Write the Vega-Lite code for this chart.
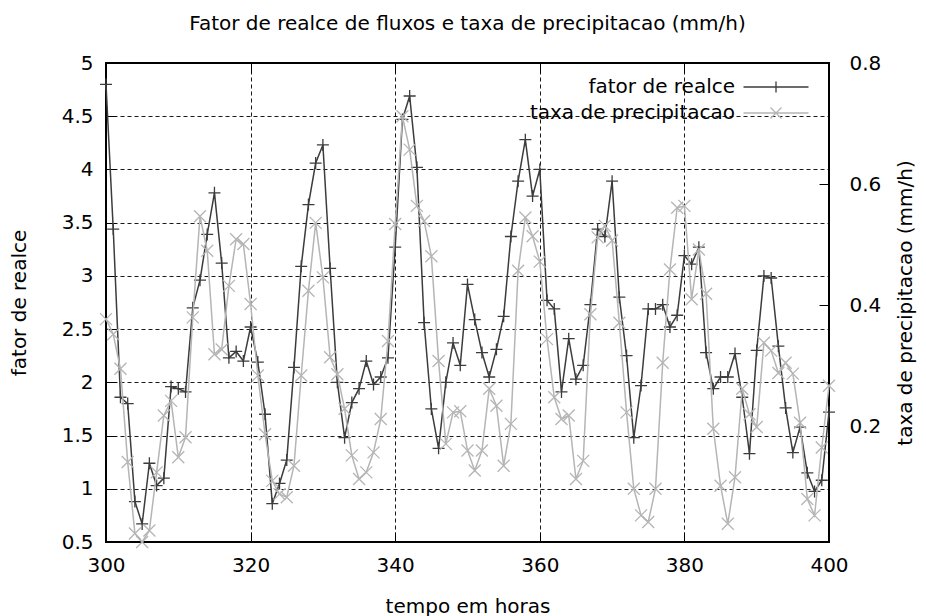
{
  "$schema": "https://vega.github.io/schema/vega-lite/v6.json",
  "autosize": "none",
  "padding": {"left": 106, "top": 63, "right": 97, "bottom": 74},
  "width": 723,
  "height": 479,
  "background": "white",
  "config": {
    "font": "DejaVu Sans",
    "view": {"stroke": "black", "strokeWidth": 2},
    "axis": {
      "labelFont": "DejaVu Sans", "titleFont": "DejaVu Sans",
      "labelFontSize": 20, "titleFontSize": 20, "titleFontWeight": "normal",
      "labelColor": "black", "titleColor": "black",
      "domain": false, "tickColor": "black", "tickSize": -10, "tickWidth": 1,
      "gridColor": "black", "gridDash": [4, 3], "gridWidth": 1, "gridOpacity": 0.9,
      "labelFlush": false, "labelOverlap": false
    }
  },
  "title": {
    "text": "Fator de realce de fluxos e taxa de precipitacao (mm/h)",
    "fontSize": 20, "fontWeight": "normal", "font": "DejaVu Sans", "color": "black", "offset": 19
  },
  "data": {"values": [
    {"hora":300,"fator de realce":4.80,"taxa de precipitacao":0.377},
    {"hora":301,"fator de realce":3.44,"taxa de precipitacao":0.352},
    {"hora":302,"fator de realce":1.86,"taxa de precipitacao":0.295},
    {"hora":303,"fator de realce":1.80,"taxa de precipitacao":0.141},
    {"hora":304,"fator de realce":0.88,"taxa de precipitacao":0.023},
    {"hora":305,"fator de realce":0.67,"taxa de precipitacao":0.009},
    {"hora":306,"fator de realce":1.24,"taxa de precipitacao":0.028},
    {"hora":307,"fator de realce":1.03,"taxa de precipitacao":0.124},
    {"hora":308,"fator de realce":1.10,"taxa de precipitacao":0.218},
    {"hora":309,"fator de realce":1.96,"taxa de precipitacao":0.242},
    {"hora":310,"fator de realce":1.94,"taxa de precipitacao":0.149},
    {"hora":311,"fator de realce":1.91,"taxa de precipitacao":0.182},
    {"hora":312,"fator de realce":2.70,"taxa de precipitacao":0.380},
    {"hora":313,"fator de realce":2.96,"taxa de precipitacao":0.547},
    {"hora":314,"fator de realce":3.39,"taxa de precipitacao":0.490},
    {"hora":315,"fator de realce":3.78,"taxa de precipitacao":0.319},
    {"hora":316,"fator de realce":3.12,"taxa de precipitacao":0.327},
    {"hora":317,"fator de realce":2.23,"taxa de precipitacao":0.432},
    {"hora":318,"fator de realce":2.29,"taxa de precipitacao":0.509},
    {"hora":319,"fator de realce":2.20,"taxa de precipitacao":0.501},
    {"hora":320,"fator de realce":2.52,"taxa de precipitacao":0.402},
    {"hora":321,"fator de realce":2.19,"taxa de precipitacao":0.284},
    {"hora":322,"fator de realce":1.70,"taxa de precipitacao":0.187},
    {"hora":323,"fator de realce":0.86,"taxa de precipitacao":0.110},
    {"hora":324,"fator de realce":1.05,"taxa de precipitacao":0.088},
    {"hora":325,"fator de realce":1.27,"taxa de precipitacao":0.083},
    {"hora":326,"fator de realce":2.14,"taxa de precipitacao":0.135},
    {"hora":327,"fator de realce":3.09,"taxa de precipitacao":0.284},
    {"hora":328,"fator de realce":3.67,"taxa de precipitacao":0.424},
    {"hora":329,"fator de realce":4.06,"taxa de precipitacao":0.536},
    {"hora":330,"fator de realce":4.23,"taxa de precipitacao":0.446},
    {"hora":331,"fator de realce":3.07,"taxa de precipitacao":0.314},
    {"hora":332,"fator de realce":2.00,"taxa de precipitacao":0.286},
    {"hora":333,"fator de realce":1.48,"taxa de precipitacao":0.229},
    {"hora":334,"fator de realce":1.81,"taxa de precipitacao":0.152},
    {"hora":335,"fator de realce":1.94,"taxa de precipitacao":0.113},
    {"hora":336,"fator de realce":2.20,"taxa de precipitacao":0.124},
    {"hora":337,"fator de realce":1.98,"taxa de precipitacao":0.157},
    {"hora":338,"fator de realce":2.05,"taxa de precipitacao":0.212},
    {"hora":339,"fator de realce":2.23,"taxa de precipitacao":0.341},
    {"hora":340,"fator de realce":3.27,"taxa de precipitacao":0.534},
    {"hora":341,"fator de realce":4.47,"taxa de precipitacao":0.712},
    {"hora":342,"fator de realce":4.69,"taxa de precipitacao":0.657},
    {"hora":343,"fator de realce":4.02,"taxa de precipitacao":0.564},
    {"hora":344,"fator de realce":2.56,"taxa de precipitacao":0.539},
    {"hora":345,"fator de realce":1.75,"taxa de precipitacao":0.481},
    {"hora":346,"fator de realce":1.38,"taxa de precipitacao":0.308},
    {"hora":347,"fator de realce":2.00,"taxa de precipitacao":0.171},
    {"hora":348,"fator de realce":2.37,"taxa de precipitacao":0.223},
    {"hora":349,"fator de realce":2.16,"taxa de precipitacao":0.225},
    {"hora":350,"fator de realce":2.92,"taxa de precipitacao":0.160},
    {"hora":351,"fator de realce":2.59,"taxa de precipitacao":0.127},
    {"hora":352,"fator de realce":2.28,"taxa de precipitacao":0.160},
    {"hora":353,"fator de realce":2.05,"taxa de precipitacao":0.262},
    {"hora":354,"fator de realce":2.31,"taxa de precipitacao":0.234},
    {"hora":355,"fator de realce":2.62,"taxa de precipitacao":0.135},
    {"hora":356,"fator de realce":3.37,"taxa de precipitacao":0.204},
    {"hora":357,"fator de realce":3.89,"taxa de precipitacao":0.457},
    {"hora":358,"fator de realce":4.28,"taxa de precipitacao":0.545},
    {"hora":359,"fator de realce":3.75,"taxa de precipitacao":0.514},
    {"hora":360,"fator de realce":4.00,"taxa de precipitacao":0.472},
    {"hora":361,"fator de realce":2.77,"taxa de precipitacao":0.344},
    {"hora":362,"fator de realce":2.69,"taxa de precipitacao":0.248},
    {"hora":363,"fator de realce":1.91,"taxa de precipitacao":0.212},
    {"hora":364,"fator de realce":2.41,"taxa de precipitacao":0.218},
    {"hora":365,"fator de realce":2.03,"taxa de precipitacao":0.113},
    {"hora":366,"fator de realce":2.16,"taxa de precipitacao":0.143},
    {"hora":367,"fator de realce":2.73,"taxa de precipitacao":0.385},
    {"hora":368,"fator de realce":3.44,"taxa de precipitacao":0.512},
    {"hora":369,"fator de realce":3.37,"taxa de precipitacao":0.531},
    {"hora":370,"fator de realce":3.89,"taxa de precipitacao":0.507},
    {"hora":371,"fator de realce":2.80,"taxa de precipitacao":0.371},
    {"hora":372,"fator de realce":2.25,"taxa de precipitacao":0.223},
    {"hora":373,"fator de realce":1.48,"taxa de precipitacao":0.097},
    {"hora":374,"fator de realce":1.97,"taxa de precipitacao":0.053},
    {"hora":375,"fator de realce":2.69,"taxa de precipitacao":0.042},
    {"hora":376,"fator de realce":2.69,"taxa de precipitacao":0.097},
    {"hora":377,"fator de realce":2.73,"taxa de precipitacao":0.305},
    {"hora":378,"fator de realce":2.52,"taxa de precipitacao":0.459},
    {"hora":379,"fator de realce":2.63,"taxa de precipitacao":0.561},
    {"hora":380,"fator de realce":3.19,"taxa de precipitacao":0.564},
    {"hora":381,"fator de realce":3.11,"taxa de precipitacao":0.410},
    {"hora":382,"fator de realce":3.27,"taxa de precipitacao":0.492},
    {"hora":383,"fator de realce":2.28,"taxa de precipitacao":0.419},
    {"hora":384,"fator de realce":1.94,"taxa de precipitacao":0.196},
    {"hora":385,"fator de realce":2.05,"taxa de precipitacao":0.102},
    {"hora":386,"fator de realce":2.05,"taxa de precipitacao":0.039},
    {"hora":387,"fator de realce":2.27,"taxa de precipitacao":0.116},
    {"hora":388,"fator de realce":1.86,"taxa de precipitacao":0.262},
    {"hora":389,"fator de realce":1.33,"taxa de precipitacao":0.220},
    {"hora":390,"fator de realce":2.30,"taxa de precipitacao":0.199},
    {"hora":391,"fator de realce":3.00,"taxa de precipitacao":0.338},
    {"hora":392,"fator de realce":2.98,"taxa de precipitacao":0.325},
    {"hora":393,"fator de realce":2.34,"taxa de precipitacao":0.288},
    {"hora":394,"fator de realce":1.76,"taxa de precipitacao":0.305},
    {"hora":395,"fator de realce":1.34,"taxa de precipitacao":0.287},
    {"hora":396,"fator de realce":1.58,"taxa de precipitacao":0.206},
    {"hora":397,"fator de realce":1.15,"taxa de precipitacao":0.080},
    {"hora":398,"fator de realce":0.975,"taxa de precipitacao":0.053},
    {"hora":399,"fator de realce":1.08,"taxa de precipitacao":0.165},
    {"hora":400,"fator de realce":1.72,"taxa de precipitacao":0.267}
  ]},
  "layer": [
    {
      "transform": [{"fold": ["fator de realce"], "as": ["serie", "valor"]}],
      "encoding": {
        "x": {"field": "hora", "type": "quantitative",
          "scale": {"domain": [300, 400], "nice": false, "zero": false},
          "axis": {"orient": "bottom", "values": [300, 320, 340, 360, 380, 400], "title": "tempo em horas",
            "grid": true, "labelPadding": 23, "titlePadding": 21}},
        "y": {"field": "valor", "type": "quantitative",
          "scale": {"domain": [0.5, 5], "nice": false, "zero": false},
          "axis": {"orient": "left", "values": [0.5, 1, 1.5, 2, 2.5, 3, 3.5, 4, 4.5, 5], "format": "~g", "title": "fator de realce",
            "grid": true, "labelPadding": 23, "titlePadding": 32}},
        "color": {"field": "serie", "type": "nominal",
          "scale": {"domain": ["fator de realce", "taxa de precipitacao"], "range": ["#3c3c3c", "#b5b5b5"]},
          "legend": {
            "orient": "none", "legendX": 660, "legendY": 14, "title": null, "padding": 0,
            "labelFontSize": 20, "labelFont": "DejaVu Sans", "labelColor": "black",
            "labelAlign": "right", "labelOffset": -51, "labelLimit": 400,
            "symbolSize": 100, "symbolStrokeWidth": 1.3, "rowPadding": 6,
            "encode": {"symbols": {"update": {
              "shape": {"signal": "datum.value === 'fator de realce' ? 'M-6.5,0H6.5M0,-1.1V1.1' : 'M-6.5,0H6.5M-1.1,-1.1L1.1,1.1M-1.1,1.1L1.1,-1.1'"},
              "fill": {"value": "transparent"},
              "strokeWidth": {"value": 1.3},
              "opacity": {"value": 1}
            }}}
          }}
      },
      "layer": [
        {"mark": {"type": "line", "strokeWidth": 1.5}},
        {"mark": {"type": "point", "shape": "M0,-1V1M-1,0H1", "size": 144, "filled": false, "strokeWidth": 1.3, "opacity": 1}}
      ]
    },
    {
      "transform": [{"fold": ["taxa de precipitacao"], "as": ["serie", "valor"]}],
      "encoding": {
        "x": {"field": "hora", "type": "quantitative",
          "scale": {"domain": [300, 400], "nice": false, "zero": false},
          "axis": {"orient": "top", "values": [300, 320, 340, 360, 380, 400], "title": null, "labels": false, "grid": false}},
        "y": {"field": "valor", "type": "quantitative",
          "scale": {"domain": [0.009, 0.8], "nice": false, "zero": false},
          "axis": {"orient": "right", "values": [0.2, 0.4, 0.6, 0.8], "title": "taxa de precipitacao (mm/h)",
            "grid": false, "labelPadding": 30, "titlePadding": 35, "titleAngle": 270}},
        "color": {"field": "serie", "type": "nominal"}
      },
      "layer": [
        {"mark": {"type": "line", "strokeWidth": 1.5}},
        {"mark": {"type": "point", "shape": "M-0.75,-0.75L0.75,0.75M-0.75,0.75L0.75,-0.75", "size": 256, "filled": false, "strokeWidth": 1.3, "opacity": 1}}
      ]
    }
  ],
  "resolve": {"scale": {"y": "independent"}, "axis": {"x": "independent", "y": "independent"}}
}
